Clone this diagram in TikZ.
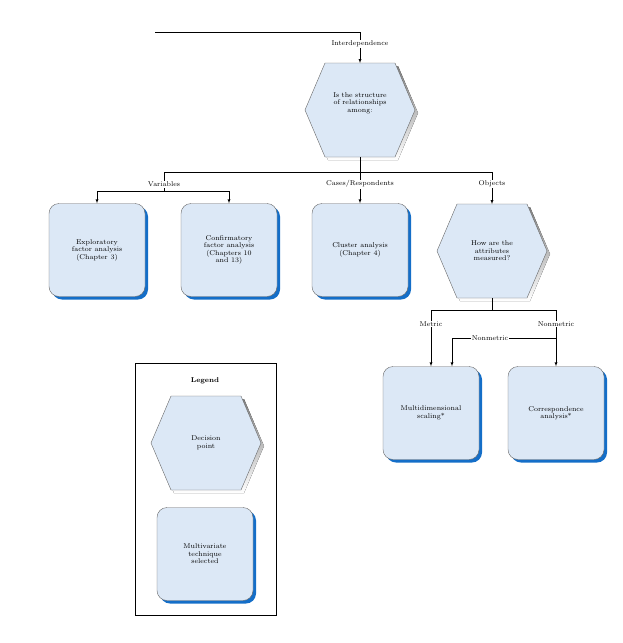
\documentclass[tikz,border=0pt]{standalone}
\usetikzlibrary{calc}
\definecolor{boxfill}{RGB}{220,232,246}
\definecolor{shade}{RGB}{20,110,200}
\tikzset{
  tech/.style={draw=gray!80!black,fill=boxfill,rounded corners=10pt,
    minimum width=96pt,minimum height=93pt,align=center,font=\fontsize{7}{7.5}\selectfont,
    double copy shadow={shadow xshift=0pt,shadow yshift=0pt,draw=none,fill=none}},
  techshadow/.style={fill=shade,rounded corners=10pt,minimum width=96pt,minimum height=93pt},
  txt/.style={align=center,font=\fontsize{7}{7.5}\selectfont},
  lbl/.style={fill=white,inner sep=1pt,font=\fontsize{7}{7.5}\selectfont},
  link/.style={-latex,thin},
}
\usetikzlibrary{shadows}
% hexagon around a point
\newcommand{\hexat}[2]{%
  \fill[shade,shift={(#1+3,#2+3)}] (-35,-47) -- (35,-47) -- (55,0) -- (35,47) -- (-35,47) -- (-55,0) -- cycle;
  \filldraw[fill=boxfill,draw=gray!80!black,shift={(#1,#2)}] (-35,-47) -- (35,-47) -- (55,0) -- (35,47) -- (-35,47) -- (-55,0) -- cycle;}
\begin{document}
\begin{tikzpicture}[x=1pt,y=-1pt]
  \useasboundingbox (0,0) rectangle (623,643);
  % decision points
  \hexat{360}{110}
  \hexat{492}{251}
  \hexat{206}{443}
  \node[txt,text width=90pt] (struct) at (360,103) {Is the structure\\of relationships\\among:};
  \node[txt,text width=90pt] (measure) at (492,251) {How are the\\attributes\\measured?};
  \coordinate (structtop) at (360,63);
  \coordinate (structbot) at (360,157);
  \coordinate (objtop) at (492,204);
  \coordinate (objbot) at (492,298);
  % techniques
  \foreach \n/\x/\y in {efa/97/250,cfa/229/250,clu/360/250,mds/431/413,ca/556/413,leg/205/554}
    \node[techshadow] at (\x+3,\y+3) {};
  \node[tech] (efa) at (97,250) {Exploratory\\factor analysis\\(Chapter 3)};
  \node[tech] (cfa) at (229,250) {Confirmatory\\factor analysis\\(Chapters 10\\and 13)};
  \node[tech] (clu) at (360,250) {Cluster analysis\\(Chapter 4)};
  \node[tech] (mds) at (431,413) {Multidimensional\\scaling*};
  \node[tech] (ca) at (556,413) {Correspondence\\analysis*};
  % legend
  \draw (135,363) rectangle (276,615);
  \node[txt,font=\bfseries\fontsize{7}{7.5}\selectfont] (legtitle) at (205,381) {Legend};
  \node[txt] (legdec) at (206,443) {Decision\\point};
  \node[tech] (legtech) at (205,554) {Multivariate\\technique\\selected};
  % connectors
  \coordinate (start) at (155,32);
  \coordinate (corner) at (360,32);
  \coordinate (split) at (360,172);
  \coordinate (splitl) at (164,172);
  \coordinate (splitr) at (492,172);
  \coordinate (varl) at (97,191);
  \coordinate (varr) at (229,191);
  \coordinate (varm) at (164,191);
  \draw (start) -- (corner);
  \draw[link] (corner) -- (structtop);
  \node[lbl] (interdep) at (360,44) {Interdependence};
  \draw (structbot) -- (split);
  \draw (splitl) -- (splitr);
  \draw (splitl) -- (varm);
  \draw (varl) -- (varr);
  \draw[link] (varl) -- (efa.north);
  \draw[link] (varr) -- (cfa.north);
  \draw[link] (split) -- (clu.north);
  \draw[link] (splitr) -- (objtop);
  \node[lbl] (variables) at (164,184) {Variables};
  \node[lbl] (cases) at (360,184) {Cases/Respondents};
  \node[lbl] (objects) at (492,184) {Objects};
  \coordinate (msplit) at (492,310);
  \coordinate (msplitl) at (431,310);
  \coordinate (msplitr) at (556,310);
  \coordinate (nmright) at (556,338);
  \coordinate (nmleft) at (452,338);
  \draw (objbot) -- (msplit);
  \draw (msplitl) -- (msplitr);
  \draw[link] (msplitl) -- (mds.north);
  \draw[link] (msplitr) -- (ca.north);
  \draw (nmright) -- (nmleft);
  \draw[link] (nmleft) -- (nmleft |- mds.north);
  \node[lbl] (metric) at (431,324) {Metric};
  \node[lbl] (nonmetric) at (556,324) {Nonmetric};
  \node[lbl] (nonmetric2) at (490,338) {Nonmetric};
\end{tikzpicture}
\end{document}
